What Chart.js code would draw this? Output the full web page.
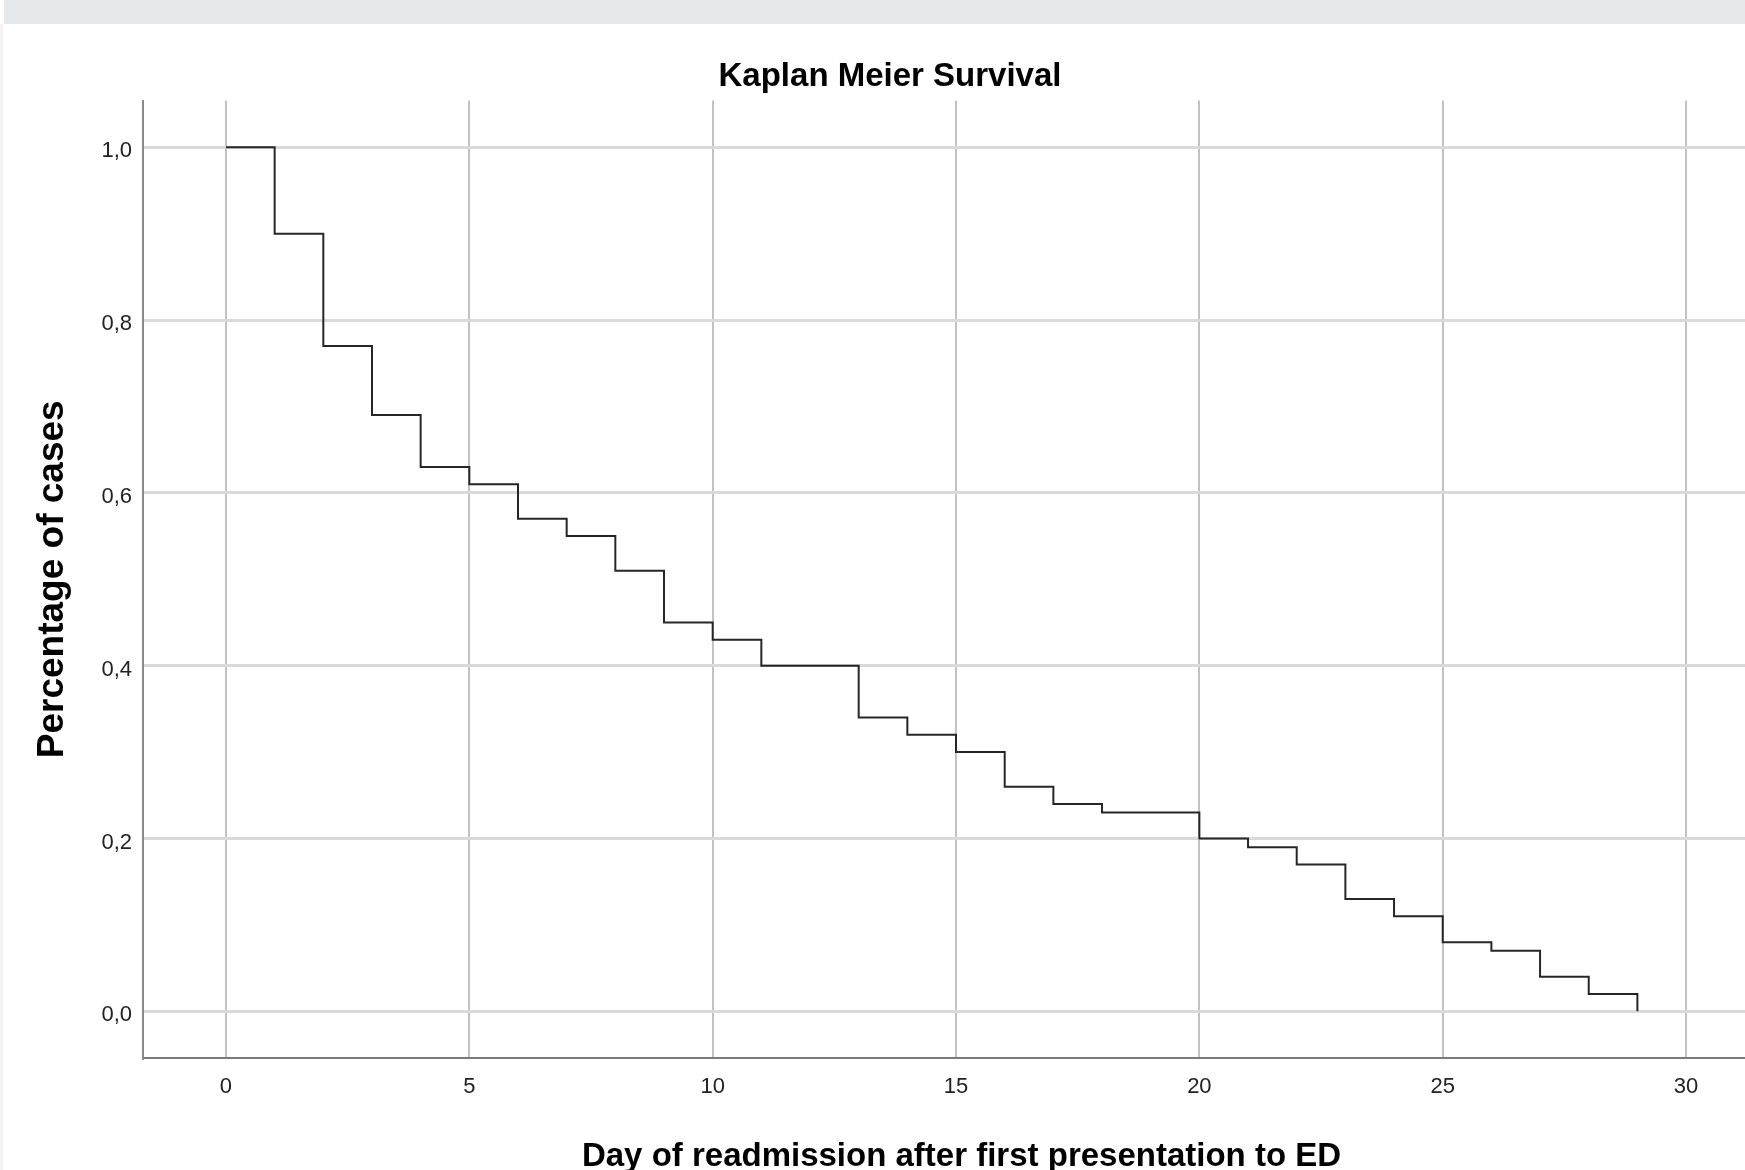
<!DOCTYPE html>
<html lang="en">
<head>
    <meta charset="UTF-8">
    <title>Kaplan Meier Survival</title>
    <script src="https://cdn.jsdelivr.net/npm/chart.js"></script>
    <style>
        html, body {
            margin: 0;
            padding: 0;
            background: #fff;
            overflow: hidden;
        }
        .page {
            position: relative;
            width: 1745px;
            height: 1170px;
            overflow: hidden;
        }
        /* grey toolbar strip along the top of the screenshot */
        .topbar {
            position: absolute;
            left: 4px;
            top: 0;
            right: 0;
            height: 24px;
            background: #e5e9ec;
        }
        .leftedge {
            position: absolute;
            left: 0;
            top: 24px;
            width: 3px;
            bottom: 0;
            background: #f3f3f3;
        }
        #km {
            position: absolute;
            left: 0;
            top: 0;
        }
    </style>
</head>
<body>
<div class="page">
    <canvas id="km" width="1780" height="1170"></canvas>
    <div class="topbar"></div>
    <div class="leftedge"></div>
</div>
<script>
    // survival estimate at each day (step drops on that day)
    var days = [0, 1, 2, 3, 4, 5, 6, 7, 8, 9, 10, 11, 12, 13, 14, 15, 16, 17, 18, 19, 20, 21, 22, 23, 24, 25, 26, 27, 28, 29];
    var survival = [1.00, 0.90, 0.77, 0.69, 0.63, 0.61, 0.57, 0.55, 0.51, 0.45, 0.43, 0.40, 0.40, 0.34, 0.32, 0.30, 0.26, 0.24, 0.23, 0.23, 0.20, 0.19, 0.17, 0.13, 0.11, 0.08, 0.07, 0.04, 0.02, 0.00];

    var xTicks = [0, 5, 10, 15, 20, 25, 30];
    var yTicks = [0, 0.2, 0.4, 0.6, 0.8, 1.0];

    var points = days.map(function (d, i) { return { x: d, y: survival[i] }; });

    var ctx = document.getElementById('km').getContext('2d');
    new Chart(ctx, {
        type: 'line',
        data: {
            datasets: [{
                label: 'Survival',
                data: points,
                stepped: 'before',
                borderColor: '#262626',
                borderWidth: 2,
                pointRadius: 0,
                fill: false
            }]
        },
        options: {
            responsive: false,
            animation: false,
            devicePixelRatio: 1,
            layout: { padding: 0 },
            plugins: {
                legend: { display: false },
                tooltip: { enabled: false },
                title: {
                    display: true,
                    text: 'Kaplan Meier Survival',
                    color: '#000',
                    font: { family: 'Arial, "Liberation Sans", sans-serif', size: 33, weight: 'bold', lineHeight: 1.2 },
                    padding: { top: 57, bottom: 4 }
                }
            },
            scales: {
                x: {
                    type: 'linear',
                    min: -1.705,
                    max: 31.93,
                    afterBuildTicks: function (scale) {
                        scale.ticks = xTicks.map(function (v) { return { value: v }; });
                    },
                    afterFit: function (scale) { scale.height = 112; },
                    ticks: {
                        color: '#222',
                        padding: 16,
                        maxRotation: 0,
                        font: { family: 'Arial, "Liberation Sans", sans-serif', size: 22 },
                        callback: function (v) { return String(v); }
                    },
                    grid: {
                        color: '#c2c2c2',
                        lineWidth: 2,
                        drawTicks: false
                    },
                    border: { color: '#7a7a7a', width: 2 },
                    title: {
                        display: true,
                        text: 'Day of readmission after first presentation to ED',
                        color: '#000',
                        font: { family: 'Arial, "Liberation Sans", sans-serif', size: 33, weight: 'bold', lineHeight: 1.2 },
                        padding: { top: 0, bottom: -7 }
                    }
                },
                y: {
                    type: 'linear',
                    min: -0.054,
                    max: 1.054,
                    afterBuildTicks: function (scale) {
                        scale.ticks = yTicks.map(function (v) { return { value: v }; });
                    },
                    afterFit: function (scale) { scale.width = 143; },
                    ticks: {
                        color: '#222',
                        padding: 11,
                        labelOffset: 4,
                        font: { family: 'Arial, "Liberation Sans", sans-serif', size: 22 },
                        callback: function (v) { return v.toFixed(1).replace('.', ','); }
                    },
                    grid: {
                        color: '#dadada',
                        lineWidth: 3,
                        drawTicks: false
                    },
                    border: { color: '#8a8a8a', width: 2 },
                    title: {
                        display: true,
                        text: 'Percentage of cases',
                        color: '#000',
                        font: { family: 'Arial, "Liberation Sans", sans-serif', size: 37, weight: 'bold', lineHeight: 1.2 },
                        padding: { top: 31, bottom: 0 }
                    }
                }
            }
        }
    });
</script>
</body>
</html>
